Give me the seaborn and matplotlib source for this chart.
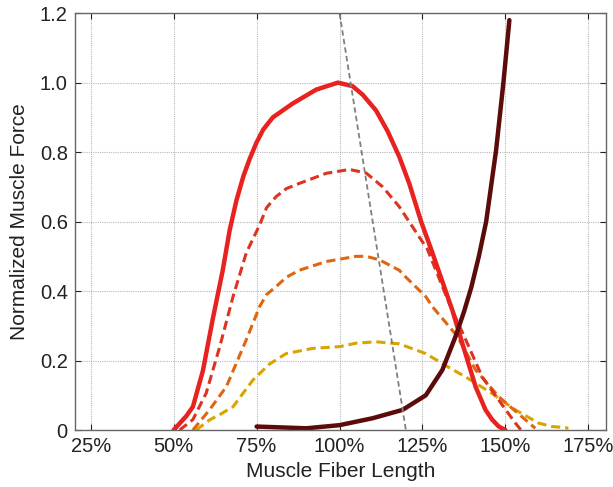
import numpy as np
import pandas as pd
import matplotlib
matplotlib.use('Agg')
import matplotlib.pyplot as plt
import seaborn as sns

# active force-length curves, x in % of optimal fiber length
act100_x = [50, 53.8, 55.8, 58.8, 61.8, 64.8, 66.9, 68.9, 71, 72.9, 74.9, 77, 79.9, 85.9, 93, 99.5,
            103.9, 107, 111, 114.5, 118, 121, 124.6, 128, 132, 134, 137, 141, 144, 146, 148, 150]
act100_y = [0, 0.04, 0.067, 0.17, 0.32, 0.46, 0.576, 0.66, 0.73, 0.78, 0.826, 0.865, 0.90, 0.94, 0.98, 1.0,
            0.99, 0.965, 0.92, 0.86, 0.787, 0.71, 0.60, 0.51, 0.40, 0.345, 0.25, 0.125, 0.058, 0.03, 0.01, 0]

act75_x = [51.8, 55.8, 59.8, 63.9, 67.9, 71.9, 75.9, 78, 80.9, 84, 87.9, 96, 103, 108, 113, 118,
           122, 126.5, 133, 138.5, 143, 148, 153, 154.7]
act75_y = [0, 0.03, 0.106, 0.24, 0.384, 0.51, 0.59, 0.64, 0.672, 0.695, 0.71, 0.739, 0.75, 0.74, 0.70, 0.643,
           0.585, 0.52, 0.366, 0.25, 0.153, 0.086, 0.02, 0]

act50_x = [55.8, 60.8, 65.9, 71.9, 75.9, 78, 80.9, 84, 87.9, 96, 105, 108, 112, 118, 120, 126, 128,
           135.5, 141, 148, 155, 159]
act50_y = [0, 0.058, 0.125, 0.26, 0.355, 0.39, 0.413, 0.44, 0.46, 0.485, 0.50, 0.50, 0.49, 0.46, 0.44, 0.384,
           0.355, 0.27, 0.173, 0.096, 0.038, 0.005]

act25_x = [56.8, 60.8, 64, 67.9, 73.9, 78.9, 83.9, 91.9, 100, 105, 111, 118, 126, 133, 138, 146,
           153, 160, 164, 168, 169]
act25_y = [0, 0.029, 0.045, 0.067, 0.144, 0.19, 0.22, 0.235, 0.24, 0.25, 0.254, 0.248, 0.22, 0.18, 0.153,
           0.105, 0.058, 0.02, 0.01, 0.007, 0.005]

# passive force
passive_x = [75, 90, 100, 110, 119, 126, 131, 135, 137.5, 139.7, 142, 144.2, 147.2, 149.4, 151.2]
passive_y = [0.01, 0.005, 0.014, 0.034, 0.058, 0.1, 0.173, 0.27, 0.34, 0.41, 0.5, 0.6, 0.806, 1.0, 1.18]

# peak shift line
shift_x = [100, 120]
shift_y = [1.2, 0]

xticks = [25, 50, 75, 100, 125, 150, 175]
xtick_labels = ['25%', '50%', '75%', '100%', '125%', '150%', '175%']
yticks = [0, 0.2, 0.4, 0.6, 0.8, 1.0, 1.2]
ytick_labels = ['0', '0.2', '0.4', '0.6', '0.8', '1.0', '1.2']

sns.set_style('ticks')
plt.rcParams['font.family'] = ['Liberation Sans', 'DejaVu Sans']

fig = plt.figure(figsize=(6.13, 4.87), dpi=100)
ax = fig.add_axes([0.122, 0.117, 0.867, 0.856])

curves = [
    (act25_x, act25_y, '#d9a300', 2.2, (0, (3, 1.6))),
    (act50_x, act50_y, '#e0650f', 2.2, (0, (3, 1.6))),
    (act75_x, act75_y, '#dc3420', 2.2, (0, (3, 1.6))),
    (act100_x, act100_y, '#e8221e', 3.2, '-'),
    (passive_x, passive_y, '#5c0a0a', 3.2, '-'),
    (shift_x, shift_y, '#808080', 1.3, (0, (3, 1.8))),
]
for cx, cy, col, lw, ls in curves:
    df = pd.DataFrame({'x': cx, 'y': cy})
    sns.lineplot(data=df, x='x', y='y', ax=ax, color=col, linewidth=lw,
                 linestyle=ls, sort=False, estimator=None,
                 solid_joinstyle='round', dash_joinstyle='round')

ax.set_xlim(20.2, 180.4)
ax.set_ylim(0, 1.2)
ax.set_xticks(xticks)
ax.set_xticklabels(xtick_labels)
ax.set_yticks(yticks)
ax.set_yticklabels(ytick_labels)
ax.grid(True, linestyle=(0, (1, 1)), color='#b8b8b8', linewidth=0.8)
ax.tick_params(direction='in', length=4, top=True, right=True, labelsize=14.5,
               colors='#222222', pad=5)
for s in ax.spines.values():
    s.set_color('#666666')
    s.set_linewidth(1.0)
ax.set_xlabel('Muscle Fiber Length', fontsize=15, color='#222222', labelpad=4)
ax.set_ylabel('Normalized Muscle Force', fontsize=15, color='#222222', labelpad=8)

fig.savefig('out.png', dpi=100)
